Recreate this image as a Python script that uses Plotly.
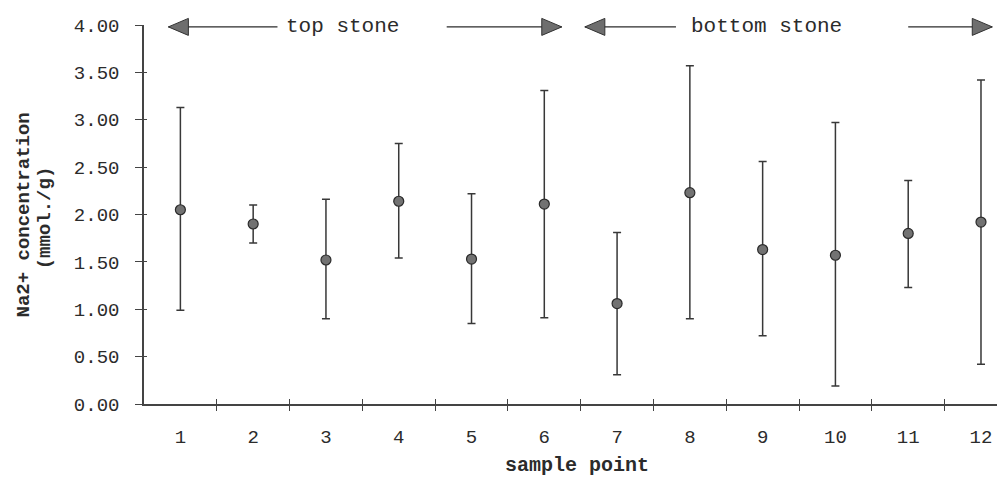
import plotly.graph_objects as go

# ---------------- data ----------------
sample_points = [1, 2, 3, 4, 5, 6, 7, 8, 9, 10, 11, 12]
means = [2.05, 1.90, 1.52, 2.14, 1.53, 2.11, 1.06, 2.23, 1.63, 1.57, 1.80, 1.92]
upper = [3.13, 2.10, 2.16, 2.75, 2.22, 3.31, 1.81, 3.57, 2.56, 2.97, 2.36, 3.42]
lower = [0.99, 1.70, 0.90, 1.54, 0.85, 0.91, 0.31, 0.90, 0.72, 0.19, 1.23, 0.42]

y_tick_vals = [0.0, 0.5, 1.0, 1.5, 2.0, 2.5, 3.0, 3.5, 4.0]
y_tick_text = ["0.00", "0.50", "1.00", "1.50", "2.00", "2.50", "3.00", "3.50", "4.00"]
x_tick_text = [str(s) for s in sample_points]
x_divider_vals = [1.5, 2.5, 3.5, 4.5, 5.5, 6.5, 7.5, 8.5, 9.5, 10.5, 11.5]

region_labels = ["top stone", "bottom stone"]
region_label_x = [3.23, 9.05]
arrow_left_tip = [0.835, 6.557]
arrow_left_line_end = [2.334, 7.809]
arrow_right_line_start = [4.659, 11.0]
arrow_right_tip = [6.24, 12.155]
arrow_y = 3.98

x_title = "sample point"
y_title_1 = "Na2+ concentration"
y_title_2 = "(mmol./g)"

# ---------------- style ----------------
FONT = "Liberation Mono, Courier New, monospace"
INK = "#2b2b2b"
AX = "#444444"

x_range = [0.5, 12.22]
y_range = [0, 4.0]
arrow_y_paper = (arrow_y - y_range[0]) / (y_range[1] - y_range[0])

err_plus = [u - m for u, m in zip(upper, means)]
err_minus = [m - l for m, l in zip(means, lower)]

fig = go.Figure()
fig.add_trace(go.Scatter(
    x=sample_points, y=means, mode="markers",
    marker=dict(size=10, color="#727272", line=dict(color="#2a2a2a", width=1.2)),
    error_y=dict(type="data", symmetric=False, array=err_plus, arrayminus=err_minus,
                 color="#383838", thickness=1.5, width=4),
    showlegend=False, hoverinfo="skip",
))
# invisible trace on the overlay axes (used for crossing tick marks)
fig.add_trace(go.Scatter(x=[1], y=[0], xaxis="x2", yaxis="y2", mode="markers",
                         marker=dict(opacity=0), showlegend=False, hoverinfo="skip"))

shapes = []
annotations = []
for i, lab in enumerate(region_labels):
    shapes.append(dict(type="line", xref="x", yref="paper", x0=arrow_left_tip[i], x1=arrow_left_line_end[i],
                       y0=arrow_y_paper, y1=arrow_y_paper, line=dict(color=INK, width=1.3)))
    shapes.append(dict(type="line", xref="x", yref="paper", x0=arrow_right_line_start[i], x1=arrow_right_tip[i],
                       y0=arrow_y_paper, y1=arrow_y_paper, line=dict(color=INK, width=1.3)))
    shapes.append(dict(type="path", xref="x", yref="paper", xsizemode="pixel", ysizemode="pixel",
                       xanchor=arrow_left_tip[i], yanchor=arrow_y_paper,
                       path="M 0 0 L 20 8.5 L 20 -8.5 Z",
                       fillcolor="#6e6e6e", line=dict(color="#333333", width=1)))
    shapes.append(dict(type="path", xref="x", yref="paper", xsizemode="pixel", ysizemode="pixel",
                       xanchor=arrow_right_tip[i], yanchor=arrow_y_paper,
                       path="M 0 0 L -20 8.5 L -20 -8.5 Z",
                       fillcolor="#6e6e6e", line=dict(color="#333333", width=1)))
    annotations.append(dict(x=region_label_x[i], y=arrow_y_paper, xref="x", yref="paper", text=lab,
                            showarrow=False, font=dict(family=FONT, size=21, color=INK),
                            xanchor="center", yanchor="middle"))

annotations.append(dict(x=(577 - 144) / 853, y=(404 - 465) / 379, xref="paper", yref="paper",
                        text="<b>" + x_title + "</b>", showarrow=False,
                        font=dict(family=FONT, size=20, color=INK), xanchor="center", yanchor="middle"))
annotations.append(dict(x=(23 - 144) / 853, y=0.5, xref="paper", yref="paper",
                        text="<b>" + y_title_1 + "</b>", showarrow=False, textangle=-90,
                        font=dict(family=FONT, size=19, color=INK), xanchor="center", yanchor="middle"))
annotations.append(dict(x=(45 - 144) / 853, y=0.49, xref="paper", yref="paper",
                        text="<b>" + y_title_2 + "</b>", showarrow=False, textangle=-90,
                        font=dict(family=FONT, size=19, color=INK), xanchor="center", yanchor="middle"))

fig.update_layout(
    width=997, height=483,
    margin=dict(l=144, r=0, t=25, b=79, pad=0),
    paper_bgcolor="white", plot_bgcolor="white",
    font=dict(family=FONT, color=INK),
    shapes=shapes, annotations=annotations,
    xaxis=dict(range=x_range, tickmode="array", tickvals=sample_points, ticktext=x_tick_text,
               ticks="", showline=True, linecolor=AX, linewidth=1.5, showgrid=False, zeroline=False,
               tickfont=dict(family=FONT, size=19, color=INK), ticklabelstandoff=14,
               minor=dict(tickmode="array", tickvals=x_divider_vals, ticks="outside", ticklen=5,
                          tickcolor=AX, tickwidth=1.2, showgrid=False)),
    xaxis2=dict(range=x_range, overlaying="x", anchor="y", side="bottom", tickmode="array",
                tickvals=x_divider_vals, ticks="inside", ticklen=5, tickcolor=AX, tickwidth=1.2,
                showticklabels=False, showline=False, showgrid=False, zeroline=False),
    yaxis=dict(range=y_range, tickmode="array", tickvals=y_tick_vals, ticktext=y_tick_text,
               ticks="outside", ticklen=7, tickcolor=AX, tickwidth=1.2,
               showline=True, linecolor=AX, linewidth=1.5, showgrid=False, zeroline=False,
               tickfont=dict(family=FONT, size=19, color=INK), ticklabelstandoff=12),
    yaxis2=dict(range=y_range, overlaying="y", anchor="x", side="left", tickmode="array",
                tickvals=y_tick_vals, ticks="inside", ticklen=3, tickcolor=AX, tickwidth=1.2,
                showticklabels=False, showline=False, showgrid=False, zeroline=False),
)

fig.write_html("out.html")
